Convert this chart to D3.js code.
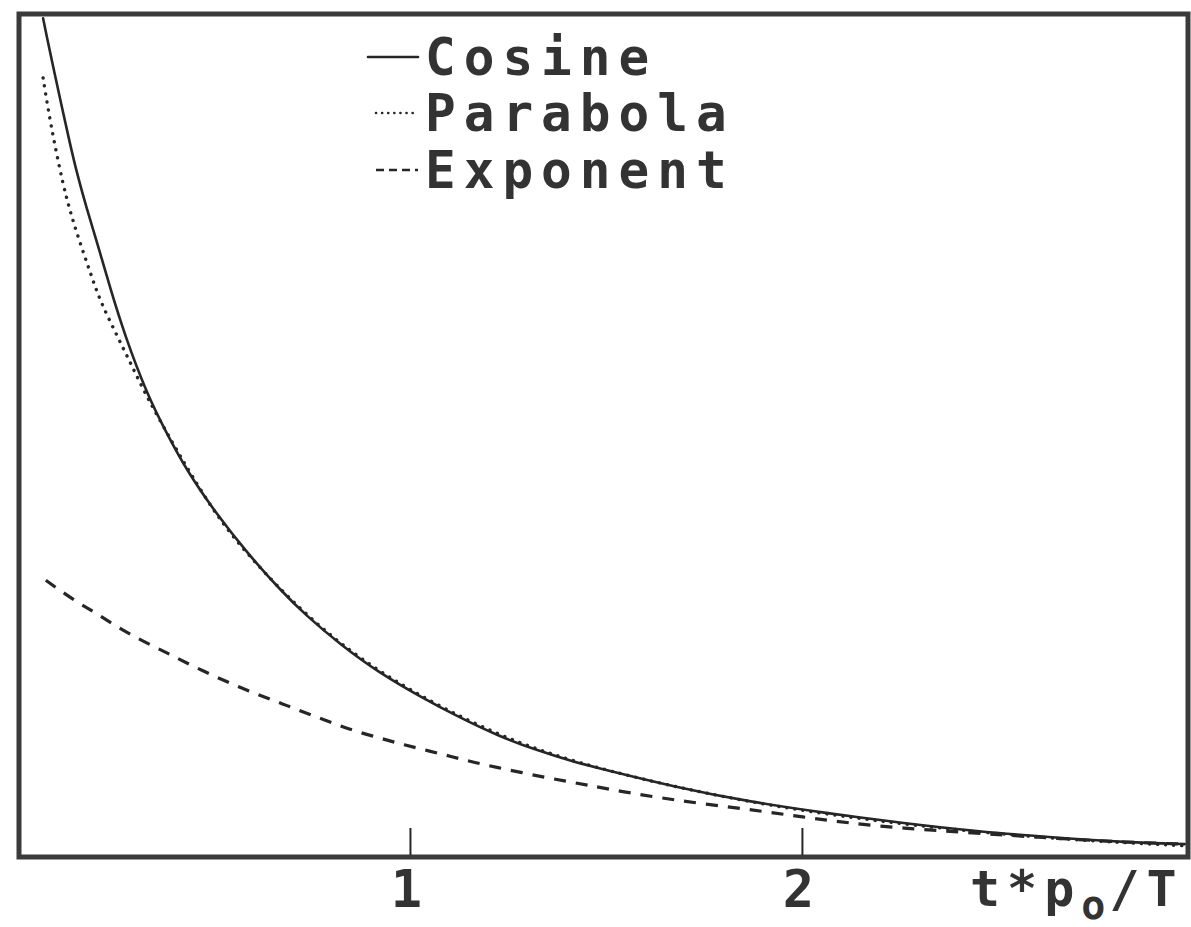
<!DOCTYPE html>
<html>
<head>
<meta charset="utf-8">
<script src="https://cdn.jsdelivr.net/npm/d3@7"></script>
<style>
  html, body { margin: 0; padding: 0; background: #ffffff; }
  svg { display: block; }
</style>
</head>
<body>
<svg id="chart" width="1191" height="927"></svg>
<script>
// ---- data (x in t*p0/T, y relative units) ----
const xTicks = [1, 2];
const seriesNames = ["Cosine", "Parabola", "Exponent"];

const cosine = [
  [0.064, 0.996], [0.074, 0.973], [0.089, 0.940], [0.107, 0.901], [0.125, 0.863],
  [0.145, 0.821], [0.176, 0.768], [0.209, 0.718], [0.235, 0.675], [0.273, 0.618],
  [0.329, 0.549], [0.375, 0.506], [0.431, 0.457], [0.508, 0.405], [0.584, 0.360],
  [0.668, 0.316], [0.735, 0.285], [0.824, 0.250], [0.921, 0.217], [1.028, 0.188],
  [1.125, 0.164], [1.224, 0.142], [1.321, 0.125], [1.418, 0.111], [1.485, 0.103],
  [1.676, 0.081], [1.870, 0.063], [2.061, 0.050], [2.255, 0.038], [2.446, 0.028],
  [2.638, 0.021], [2.832, 0.015], [2.977, 0.013]
];

const parabola = [
  [0.064, 0.925], [0.077, 0.887], [0.094, 0.845], [0.115, 0.798], [0.133, 0.766],
  [0.158, 0.729], [0.184, 0.694], [0.209, 0.660], [0.253, 0.618], [0.293, 0.580],
  [0.329, 0.545], [0.395, 0.490], [0.439, 0.455], [0.508, 0.403], [0.584, 0.358],
  [0.735, 0.284], [0.921, 0.215], [1.224, 0.140], [1.485, 0.101], [1.870, 0.061],
  [2.255, 0.036], [2.638, 0.019], [2.977, 0.011]
];

const exponent = [
  [0.071, 0.327], [0.140, 0.304], [0.199, 0.288], [0.258, 0.270], [0.321, 0.254],
  [0.383, 0.240], [0.441, 0.226], [0.505, 0.212], [0.564, 0.200], [0.628, 0.188],
  [0.686, 0.178], [0.745, 0.167], [0.804, 0.157], [0.862, 0.147], [0.926, 0.139],
  [0.985, 0.131], [1.048, 0.124], [1.107, 0.117], [1.166, 0.110], [1.224, 0.104],
  [1.286, 0.098], [1.349, 0.092], [1.408, 0.087], [1.467, 0.082], [1.523, 0.077],
  [1.676, 0.065], [1.870, 0.054], [2.005, 0.045], [2.122, 0.038], [2.250, 0.032],
  [2.446, 0.026], [2.638, 0.020], [2.832, 0.015], [2.977, 0.013]
];

// ---- layout ----
const svg = d3.select("#chart");
const plotL = 18, plotR = 1188, plotT = 15, plotB = 855;
const x = d3.scaleLinear().domain([0, 2.985]).range([plotL, plotR]);
const y = d3.scaleLinear().domain([0, 1]).range([plotB, plotT]);

const ink = "#262626";
const frameInk = "#3a3a3a";
const fontFam = "'DejaVu Sans Mono', 'Liberation Mono', monospace";

svg.append("defs").append("clipPath").attr("id", "plotclip")
  .append("rect").attr("x", plotL + 2).attr("y", plotT + 2)
  .attr("width", plotR - plotL - 4).attr("height", plotB - plotT - 2);

const line = d3.line().x(d => x(d[0])).y(d => y(d[1])).curve(d3.curveBasis);

const styles = {
  Cosine:   { width: 2.6, dash: null,   cap: "round" },
  Parabola: { width: 3.4, dash: "0.1,8", cap: "round" },
  Exponent: { width: 3.2, dash: "12,10", cap: "butt" }
};
const dataBy = { Cosine: cosine, Parabola: parabola, Exponent: exponent };

const g = svg.append("g").attr("clip-path", "url(#plotclip)");
seriesNames.forEach(n => {
  g.append("path")
    .datum(dataBy[n])
    .attr("d", line)
    .attr("fill", "none")
    .attr("stroke", ink)
    .attr("stroke-width", styles[n].width)
    .attr("stroke-linecap", styles[n].cap)
    .attr("stroke-dasharray", styles[n].dash);
});

// frame
svg.append("rect")
  .attr("x", plotL + 1).attr("y", plotT - 1)
  .attr("width", plotR - plotL - 1).attr("height", plotB - plotT + 3)
  .attr("fill", "none").attr("stroke", frameInk).attr("stroke-width", 5);

// x axis ticks (inward) and labels
const xAxis = d3.axisBottom(x).tickValues(xTicks).tickSize(-27).tickFormat(d3.format("d"));
const ax = svg.append("g").attr("transform", `translate(0,${plotB})`).call(xAxis);
ax.select(".domain").remove();
ax.selectAll(".tick line").attr("stroke", ink).attr("stroke-width", 2);
ax.selectAll(".tick text")
  .attr("fill", "#333")
  .attr("font-family", fontFam)
  .attr("font-weight", "bold")
  .attr("font-size", 52)
  .attr("y", 52)
  .attr("dy", 0)
  .attr("dx", -4);

// axis label t*p_o/T
const lab = svg.append("text")
  .attr("x", 970).attr("y", 906)
  .attr("fill", "#333")
  .attr("font-family", fontFam)
  .attr("font-weight", "bold")
  .attr("font-size", 50)
  .attr("letter-spacing", 7);
lab.append("tspan").text("t*p");
lab.append("tspan").attr("dy", 13).attr("font-size", 40).attr("letter-spacing", 4).text("o");
lab.append("tspan").attr("dy", -13).text("/T");

// legend
const legY = [57, 113, 170];
const leg = svg.append("g");
seriesNames.forEach((n, i) => {
  const x0 = i === 0 ? 368 : 376;
  leg.append("line")
    .attr("x1", x0).attr("x2", 418)
    .attr("y1", legY[i]).attr("y2", legY[i])
    .attr("stroke", ink)
    .attr("stroke-width", 2.6)
    .attr("stroke-linecap", styles[n].cap)
    .attr("stroke-dasharray", i === 0 ? null : (i === 1 ? "0.1,6" : "8,5"));
  leg.append("text")
    .attr("x", 425).attr("y", legY[i] + 18)
    .attr("fill", "#333")
    .attr("font-family", fontFam)
    .attr("font-weight", "bold")
    .attr("font-size", 51)
    .attr("letter-spacing", 8)
    .text(n);
});
</script>
</body>
</html>
